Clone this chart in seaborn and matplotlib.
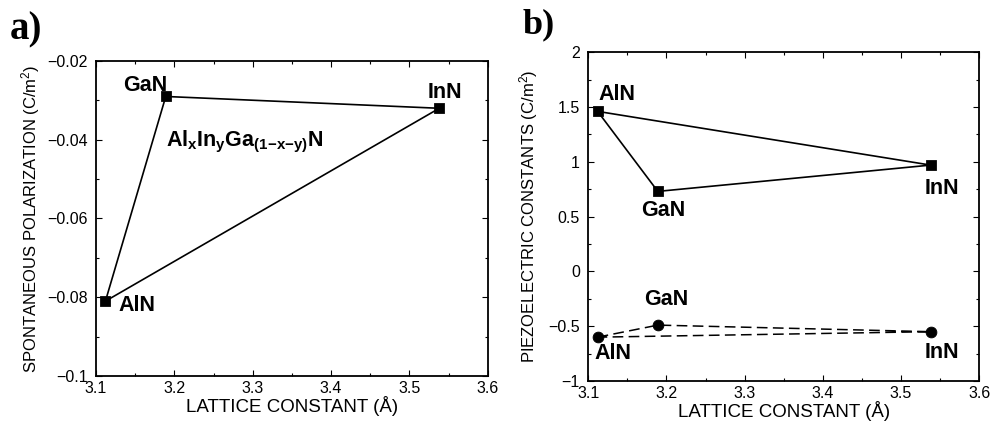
import matplotlib
matplotlib.use("Agg")
import matplotlib.pyplot as plt
import seaborn as sns
import pandas as pd
from matplotlib.ticker import MultipleLocator, FuncFormatter

sns.set_theme(style="ticks")
plt.rcParams['font.family'] = ['Liberation Sans', 'DejaVu Sans']
plt.rcParams['mathtext.fontset'] = 'custom'
plt.rcParams['mathtext.rm'] = 'Liberation Sans'
plt.rcParams['mathtext.it'] = 'Liberation Sans'
plt.rcParams['mathtext.bf'] = 'Liberation Sans:bold'
plt.rcParams['text.color'] = 'black'
plt.rcParams['axes.labelcolor'] = 'black'
plt.rcParams['xtick.color'] = 'black'
plt.rcParams['ytick.color'] = 'black'

# ---- data ----
materials = ["AlN", "GaN", "InN"]
lattice = [3.112, 3.189, 3.538]
spont_pol = [-0.081, -0.029, -0.032]
piezo_e33 = [1.46, 0.73, 0.97]
piezo_e31 = [-0.60, -0.49, -0.55]

xticks = [3.1, 3.2, 3.3, 3.4, 3.5, 3.6]


def closed(xs, ys):
    return pd.DataFrame({"x": list(xs) + [xs[0]], "y": list(ys) + [ys[0]]})


fig = plt.figure(figsize=(9.92, 4.21), dpi=100)
ax1 = fig.add_axes([0.0968, 0.107, 0.395, 0.748])
ax2 = fig.add_axes([0.593, 0.095, 0.394, 0.781])

fmt = FuncFormatter(lambda v, p: ("%g" % v).replace("-", "\u2212"))

# panel a
d = closed(lattice, spont_pol)
sns.lineplot(data=d, x="x", y="y", sort=False, estimator=None, color="black",
             linewidth=1.2, ax=ax1)
sns.scatterplot(x=lattice, y=spont_pol, marker="s", s=50, color="black",
                edgecolor="black", ax=ax1, zorder=3)
ax1.set_xlim(3.1, 3.6)
ax1.set_ylim(-0.1, -0.02)
ax1.yaxis.set_major_locator(MultipleLocator(0.02))
ax1.yaxis.set_minor_locator(MultipleLocator(0.01))
ax1.set_ylabel(r"SPONTANEOUS POLARIZATION (C/m$^2$)", fontsize=12, labelpad=4)
tk = dict(fontsize=15.5, fontweight="bold")
ax1.text(3.163, -0.0263, "GaN", ha="center", va="center", **tk)
ax1.text(3.545, -0.0279, "InN", ha="center", va="center", **tk)
ax1.text(3.152, -0.0822, "AlN", ha="center", va="center", **tk)
ax1.text(3.29, -0.0406, r"$\mathbf{Al_xIn_yGa_{(1{-}x{-}y)}N}$", ha="center",
         va="center", fontsize=15.5)

# panel b
d2 = closed(lattice, piezo_e33)
sns.lineplot(data=d2, x="x", y="y", sort=False, estimator=None, color="black",
             linewidth=1.2, ax=ax2)
sns.scatterplot(x=lattice, y=piezo_e33, marker="s", s=50, color="black",
                edgecolor="black", ax=ax2, zorder=3)
d3 = closed(lattice, piezo_e31)
sns.lineplot(data=d3, x="x", y="y", sort=False, estimator=None, color="black",
             linewidth=1.1, ax=ax2, dashes=False)
ax2.lines[-1].set_dashes((7, 3.5))
sns.scatterplot(x=lattice, y=piezo_e31, marker="o", s=60, color="black",
                edgecolor="black", ax=ax2, zorder=3)
ax2.set_xlim(3.1, 3.6)
ax2.set_ylim(-1, 2)
ax2.yaxis.set_major_locator(MultipleLocator(0.5))
ax2.yaxis.set_minor_locator(MultipleLocator(0.25))
ax2.set_ylabel(r"PIEZOELECTRIC CONSTANTS (C/m$^2$)", fontsize=12, labelpad=6)
ax2.text(3.137, 1.617, "AlN", ha="center", va="center", **tk)
ax2.text(3.553, 0.76, "InN", ha="center", va="center", **tk)
ax2.text(3.196, 0.56, "GaN", ha="center", va="center", **tk)
ax2.text(3.20, -0.26, "GaN", ha="center", va="center", **tk)
ax2.text(3.131, -0.75, "AlN", ha="center", va="center", **tk)
ax2.text(3.553, -0.744, "InN", ha="center", va="center", **tk)

for ax in (ax1, ax2):
    ax.set_xticks(xticks)
    ax.xaxis.set_minor_locator(MultipleLocator(0.05))
    ax.xaxis.set_major_formatter(fmt)
    ax.yaxis.set_major_formatter(fmt)
    ax.set_xlabel("LATTICE CONSTANT (\u00c5)", fontsize=13.5, labelpad=0)
    ax.tick_params(which="both", direction="in", top=True, right=True,
                   labelsize=11.5, width=0.8, color="black")
    ax.tick_params(axis="y", pad=6)
    ax.tick_params(which="major", length=4)
    ax.tick_params(which="minor", length=2)
    for s in ax.spines.values():
        s.set_linewidth(1.3)
        s.set_color("black")

fig.text(0.01, 0.93, "a)", fontsize=28, fontweight="bold",
         family="Liberation Serif", va="center")
fig.text(0.527, 0.94, "b)", fontsize=26, fontweight="bold",
         family="Liberation Serif", va="center")

fig.savefig("out.png", dpi=100)
